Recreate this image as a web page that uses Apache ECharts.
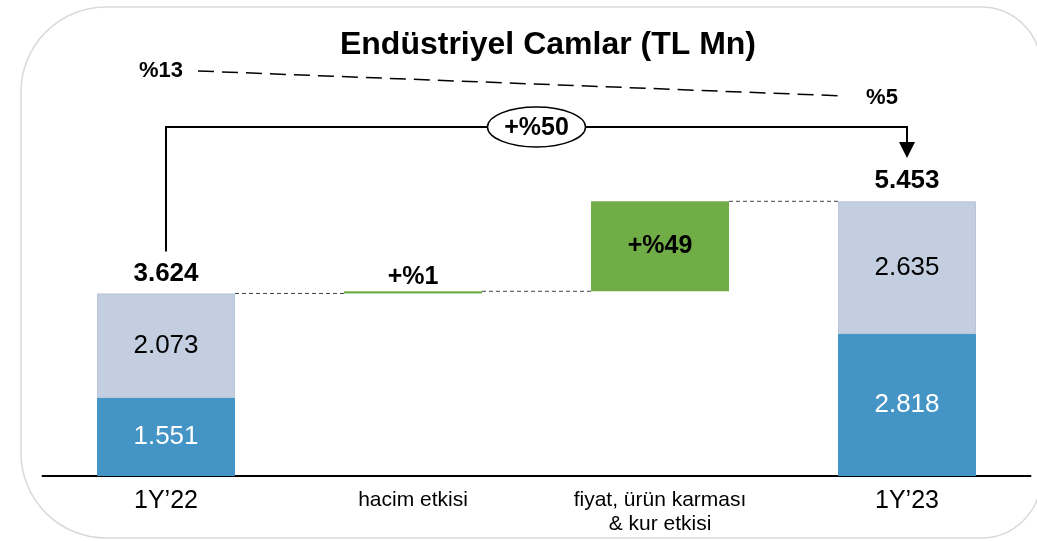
<!DOCTYPE html>
<html>
<head>
<meta charset="utf-8">
<script src="https://cdn.jsdelivr.net/npm/echarts@6/dist/echarts.min.js"></script>
<style>
    html, body { margin: 0; padding: 0; background: #fff; }
    #chart { width: 1037px; height: 541px; }
</style>
</head>
<body>
<div id="chart"></div>
<script>
var categories = ['1Y\u201922', 'hacim etkisi', 'fiyat, ürün karması\n& kur etkisi', '1Y\u201923'];
var baseValues = [0, 3624, 3667, 0];
var darkValues = [1551, '-', '-', 2818];
var lightValues = [2073, '-', '-', 2635];
var changeValues = ['-', 43, 1786, '-'];
var changeLabels = ['', '+%1', '+%49', ''];
var totalValues = [3624, '-', '-', 5453];
var marginLabels = ['%13', '%5'];
var growthLabel = '+%50';

var FONT = '"Liberation Sans", Arial, sans-serif';
var BAR_W = 138;

function fmt(v) {
    return String(v).replace(/\B(?=(\d{3})+(?!\d))/g, '.');
}

// level reached after each category, used for the dashed connectors
var levels = [];
for (var i = 0; i < categories.length - 1; i++) {
    var lvl = baseValues[i] || 0;
    [darkValues[i], lightValues[i], changeValues[i]].forEach(function (v) {
        if (v !== '-') lvl += v;
    });
    levels.push([i, lvl]);
}

var changeData = changeValues.map(function (v, i) {
    if (v === '-') return '-';
    var small = v < 200;
    return {
        value: v,
        label: {
            show: true,
            position: small ? 'top' : 'inside',
            distance: 2,
            formatter: changeLabels[i],
            fontSize: 25,
            fontWeight: 'bold',
            color: '#000',
            fontFamily: FONT
        }
    };
});

var chart = echarts.init(document.getElementById('chart'));

chart.setOption({
    animation: false,
    backgroundColor: '#fff',
    grid: { left: 42.5, right: 6.5, top: 73, bottom: 65 },
    xAxis: {
        type: 'category',
        data: categories,
        axisLine: { lineStyle: { color: '#000', width: 2 } },
        axisTick: { show: false },
        axisLabel: {
            interval: 0,
            margin: 12,
            formatter: function (v, i) {
                if (i === 0 || i === categories.length - 1) return '{big|' + v + '}';
                return v.split('\n').map(function (s) { return '{small|' + s + '}'; }).join('\n');
            },
            rich: {
                big: { fontSize: 25, lineHeight: 27, color: '#000', fontFamily: FONT },
                small: { fontSize: 21, lineHeight: 24, color: '#000', fontFamily: FONT }
            }
        }
    },
    yAxis: {
        type: 'value',
        min: 0,
        max: 8000,
        show: false,
        splitLine: { show: false }
    },
    series: [
        {
            name: 'base', type: 'bar', stack: 'w', barWidth: BAR_W,
            data: baseValues,
            itemStyle: { color: 'transparent' },
            silent: true
        },
        {
            name: 'dark', type: 'bar', stack: 'w', barWidth: BAR_W,
            data: darkValues,
            itemStyle: { color: '#4495C5' },
            label: {
                show: true, position: 'inside', color: '#fff', fontSize: 26,
                fontFamily: FONT, formatter: function (p) { return fmt(p.value); }
            }
        },
        {
            name: 'light', type: 'bar', stack: 'w', barWidth: BAR_W,
            data: lightValues,
            itemStyle: { color: '#C3CEE0', borderColor: '#B8C5DA', borderWidth: 1 },
            label: {
                show: true, position: 'inside', color: '#000', fontSize: 26,
                fontFamily: FONT, formatter: function (p) { return fmt(p.value); }
            }
        },
        {
            name: 'change', type: 'bar', stack: 'w', barWidth: BAR_W,
            data: changeData,
            itemStyle: { color: '#70AD47' }
        },
        {
            name: 'total', type: 'scatter',
            data: totalValues,
            symbolSize: 0,
            itemStyle: { color: '#000', opacity: 1 },
            label: {
                show: true, position: 'top', distance: 7, color: '#000', opacity: 1,
                fontSize: 26, fontWeight: 'bold', fontFamily: FONT,
                formatter: function (p) { return fmt(p.value); }
            }
        },
        {
            name: 'connector', type: 'custom',
            data: levels,
            encode: { x: 0, y: 1 },
            renderItem: function (params, api) {
                var i = api.value(0);
                var a = api.coord([i, api.value(1)]);
                var b = api.coord([i + 1, api.value(1)]);
                return {
                    type: 'line',
                    shape: { x1: a[0] + BAR_W / 2, y1: a[1], x2: b[0] - BAR_W / 2, y2: b[1] },
                    style: { stroke: '#404040', lineWidth: 1, lineDash: [4, 3] }
                };
            },
            z: 1
        }
    ]
});

// annotations above the bars, anchored to the first and last columns
var p0 = chart.convertToPixel({ gridIndex: 0 }, [0, totalValues[0]]);
var p3 = chart.convertToPixel({ gridIndex: 0 }, [3, totalValues[3]]);
var x0 = p0[0], x3 = p3[0];
var bracketY = 127;
var midX = (x0 + x3) / 2;

chart.setOption({
    graphic: [
        {
            type: 'rect', z: -10, silent: true,
            shape: { x: 21, y: 7, width: 1020, height: 531, r: [85, 60, 60, 85] },
            style: { fill: 'none', stroke: '#D9D9D9', lineWidth: 1.5 }
        },
        {
            type: 'text', x: 548, y: 45,
            style: {
                text: 'Endüstriyel Camlar (TL Mn)', fontSize: 32, fontWeight: 'bold',
                fontFamily: FONT, fill: '#000', align: 'center', verticalAlign: 'middle'
            }
        },
        {
            type: 'line',
            shape: { x1: 198, y1: 71, x2: 845, y2: 96 },
            style: { stroke: '#000', lineWidth: 1.5, lineDash: [16, 8] }
        },
        {
            type: 'text', x: 161, y: 71,
            style: {
                text: marginLabels[0], fontSize: 22, fontWeight: 'bold', fontFamily: FONT,
                fill: '#000', align: 'center', verticalAlign: 'middle'
            }
        },
        {
            type: 'text', x: 882, y: 98,
            style: {
                text: marginLabels[1], fontSize: 22, fontWeight: 'bold', fontFamily: FONT,
                fill: '#000', align: 'center', verticalAlign: 'middle'
            }
        },
        {
            type: 'polyline',
            shape: { points: [[x0, p0[1] - 42], [x0, bracketY], [x3, bracketY], [x3, bracketY + 16]] },
            style: { stroke: '#000', lineWidth: 2, fill: 'none' }
        },
        {
            type: 'polygon',
            shape: { points: [[x3 - 8, bracketY + 15], [x3 + 8, bracketY + 15], [x3, bracketY + 31]] },
            style: { fill: '#000' }
        },
        {
            type: 'ellipse',
            shape: { cx: midX, cy: bracketY, rx: 49, ry: 20 },
            style: { fill: '#fff', stroke: '#000', lineWidth: 1.5 }
        },
        {
            type: 'text', x: midX, y: bracketY + 1,
            style: {
                text: growthLabel, fontSize: 25, fontWeight: 'bold', fontFamily: FONT,
                fill: '#000', align: 'center', verticalAlign: 'middle'
            }
        }
    ]
});
</script>
</body>
</html>
